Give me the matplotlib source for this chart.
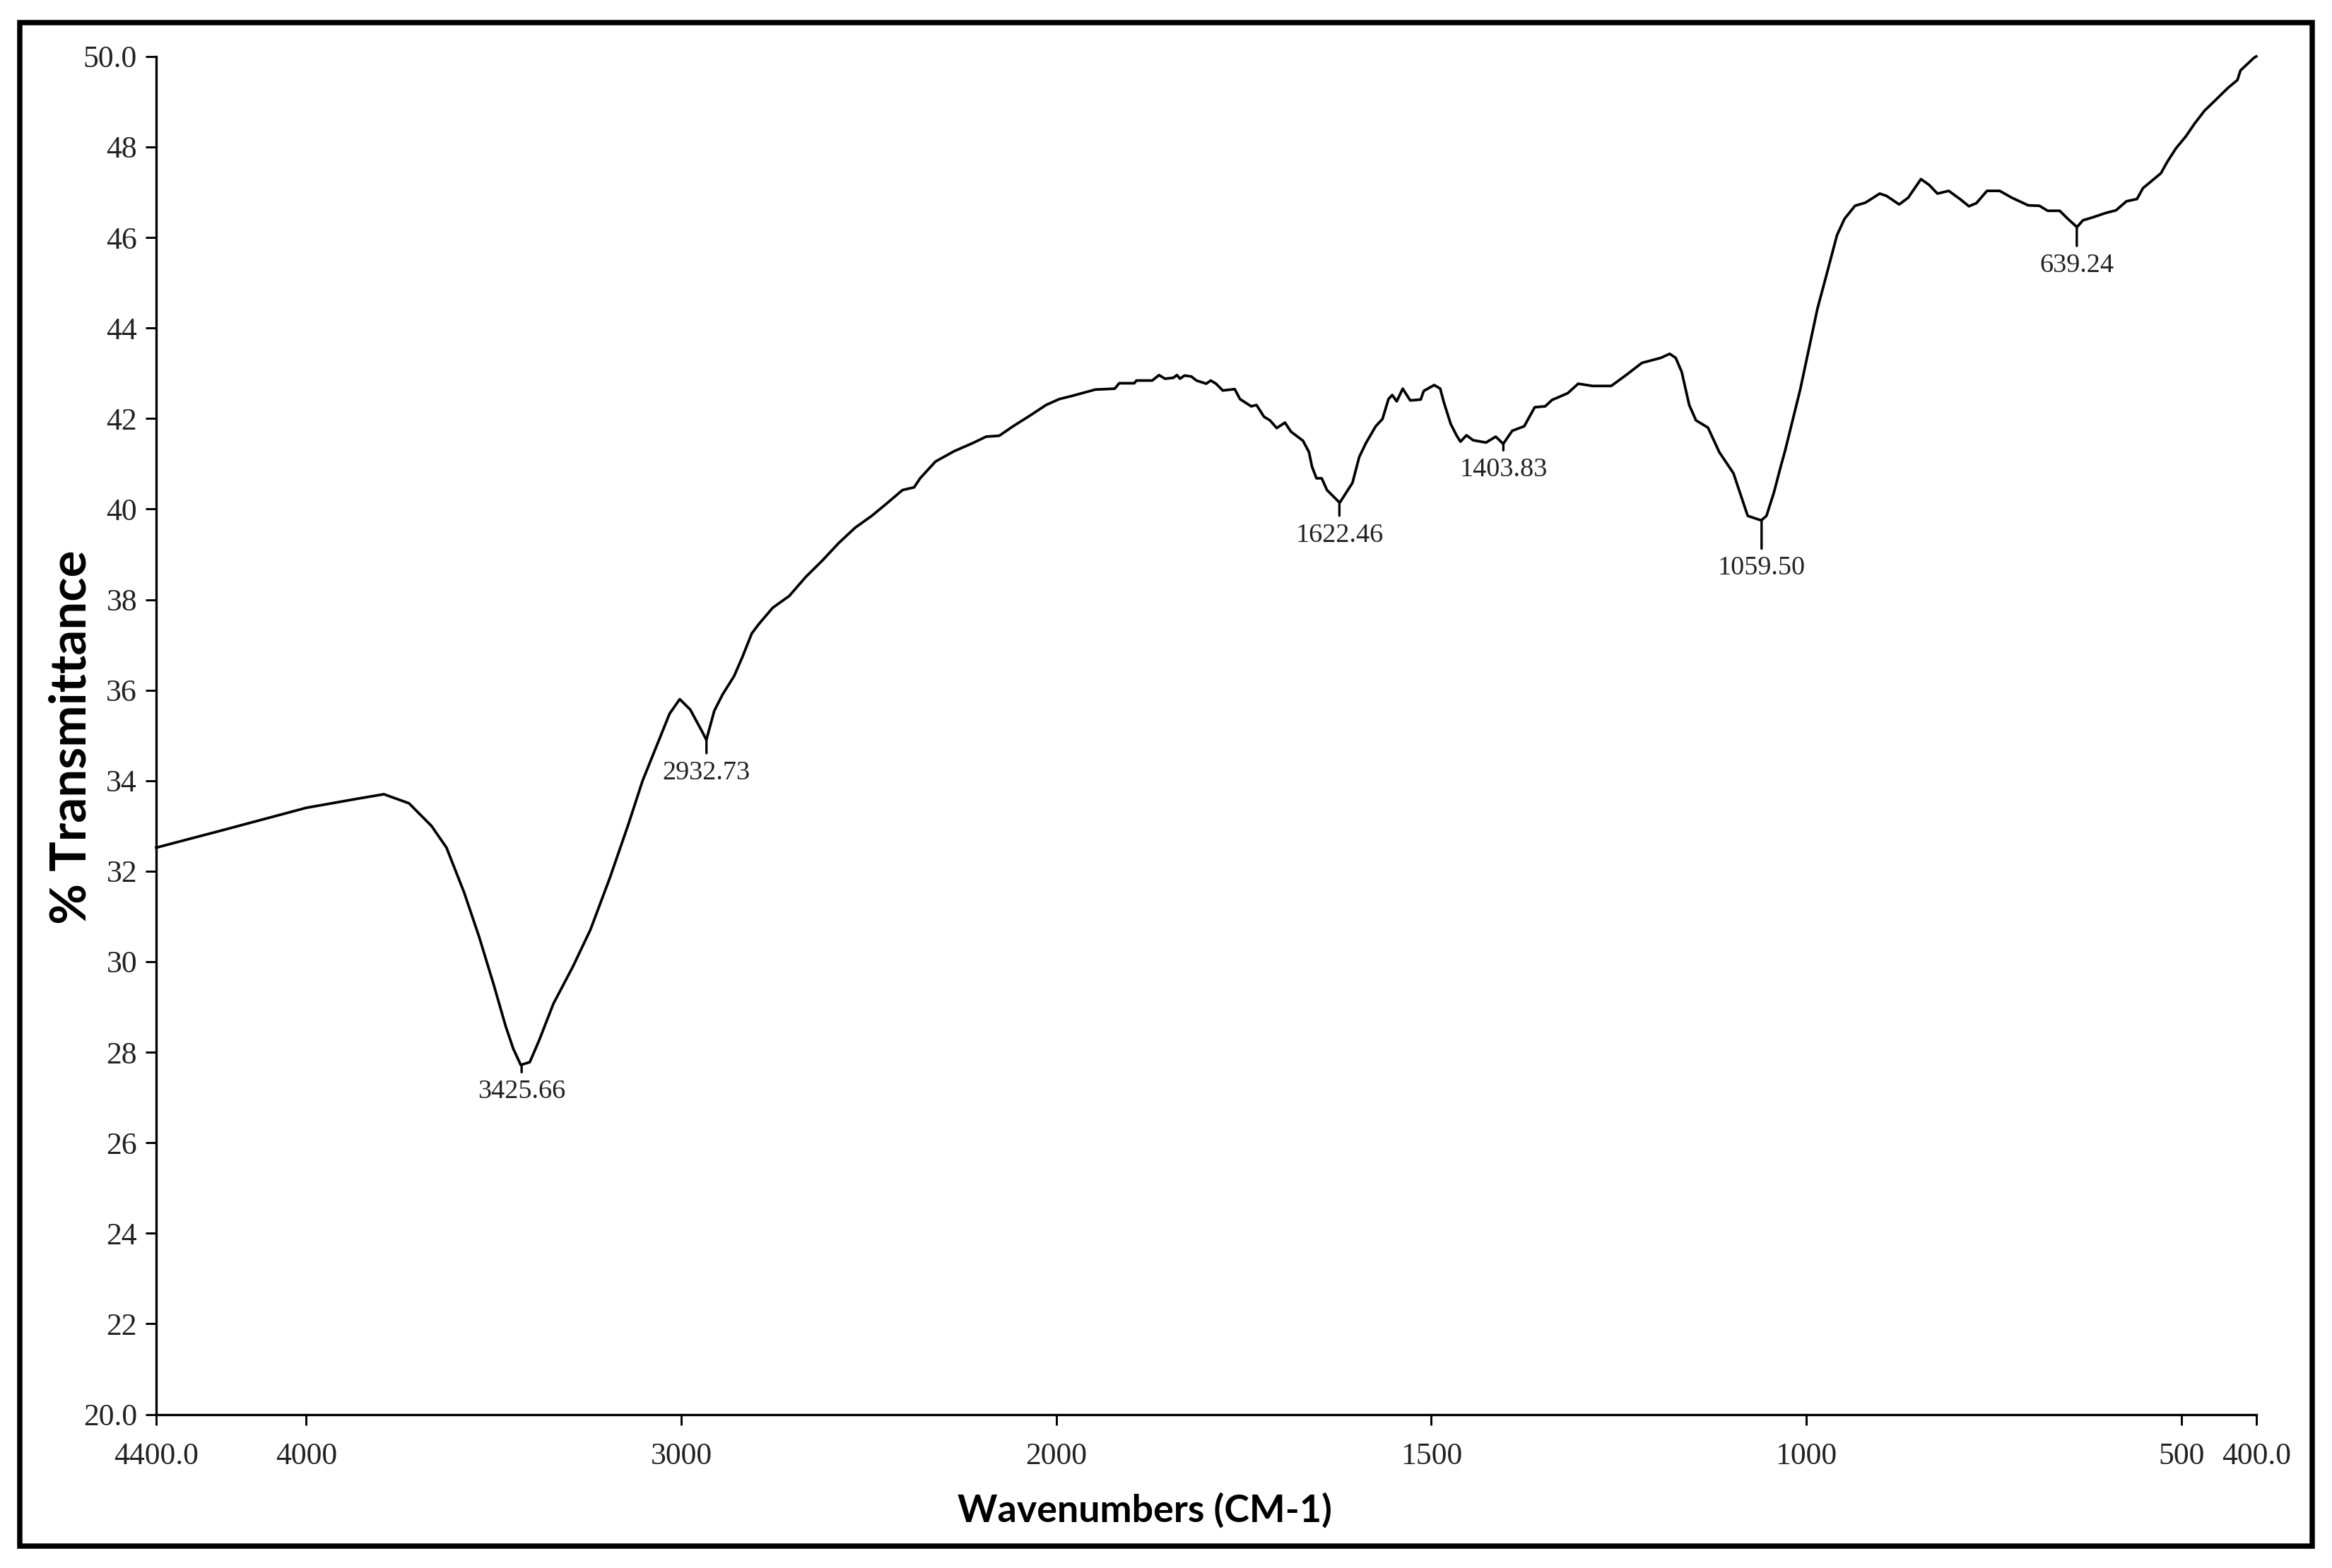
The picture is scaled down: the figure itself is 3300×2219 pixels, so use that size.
import numpy as np
import matplotlib
matplotlib.use('Agg')
import matplotlib.pyplot as plt
from matplotlib.patches import Rectangle
from matplotlib.ticker import FixedLocator, FixedFormatter

# 光谱数据
wavenumbers = [
    4400, 4221, 4000, 3864, 3793, 3726, 3666, 3626, 3579, 3539, 3500, 3468, 3448,
    3428, 3404, 3380, 3341, 3289, 3242, 3190, 3142, 3103, 3063, 3031, 3004, 2976,
    2944, 2933, 2912, 2890, 2859, 2837, 2812, 2793, 2756, 2712, 2668, 2624, 2580,
    2536, 2492, 2454, 2410, 2379, 2363, 2322, 2272, 2222, 2187, 2152, 2115, 2071,
    2027, 1996, 1979, 1948, 1922, 1916, 1896, 1893, 1872, 1863, 1855, 1844, 1839,
    1835, 1829, 1820, 1813, 1800, 1794, 1787, 1778, 1762, 1755, 1740, 1733, 1723,
    1715, 1706, 1695, 1687, 1671, 1663, 1659, 1653, 1646, 1639, 1622, 1615, 1605,
    1596, 1587, 1574, 1565, 1557, 1552, 1546, 1538, 1528, 1514, 1510, 1496, 1488,
    1483, 1474, 1466, 1461, 1453, 1444, 1427, 1414, 1404, 1392, 1376, 1362, 1348,
    1339, 1318, 1304, 1285, 1260, 1241, 1219, 1194, 1182, 1174, 1166, 1156, 1147,
    1131, 1116, 1097, 1078, 1060, 1053, 1043, 1034, 1028, 1008, 985, 974, 959, 949,
    935, 921, 902, 893, 876, 864, 847, 836, 825, 810, 795, 783, 773, 759, 742, 726,
    704, 689, 678, 662, 651, 639, 631, 617, 601, 587, 573, 559, 551, 527, 519, 507,
    494, 482, 469, 454, 438, 425, 421, 403, 400,
]
transmittance = [
    32.52, 32.91, 33.40, 33.60, 33.70, 33.50, 33.00, 32.52, 31.53, 30.55, 29.49,
    28.57, 28.08, 27.72, 27.78, 28.24, 29.07, 29.89, 30.71, 31.86, 33.01, 34.00,
    34.82, 35.48, 35.80, 35.57, 35.08, 34.90, 35.54, 35.90, 36.31, 36.73, 37.25,
    37.46, 37.82, 38.08, 38.50, 38.86, 39.25, 39.59, 39.85, 40.11, 40.42, 40.48,
    40.68, 41.05, 41.28, 41.46, 41.60, 41.62, 41.83, 42.06, 42.30, 42.43, 42.50,
    42.64, 42.66, 42.78, 42.78, 42.84, 42.84, 42.96, 42.88, 42.90, 42.96, 42.88,
    42.95, 42.93, 42.84, 42.77, 42.84, 42.77, 42.62, 42.65, 42.43, 42.27, 42.30,
    42.04, 41.96, 41.79, 41.91, 41.71, 41.51, 41.26, 40.94, 40.68, 40.68, 40.42,
    40.14, 40.32, 40.58, 41.15, 41.46, 41.83, 41.99, 42.43, 42.52, 42.38, 42.66,
    42.40, 42.42, 42.61, 42.74, 42.66, 42.35, 41.88, 41.62, 41.49, 41.63, 41.52,
    41.47, 41.60, 41.44, 41.73, 41.83, 42.25, 42.27, 42.41, 42.56, 42.77, 42.72,
    42.72, 42.95, 43.23, 43.34, 43.43, 43.34, 43.03, 42.30, 41.96, 41.80, 41.26,
    40.79, 39.85, 39.75, 39.85, 40.37, 40.94, 41.30, 42.64, 44.43, 45.11, 46.05,
    46.41, 46.70, 46.77, 46.97, 46.92, 46.73, 46.88, 47.29, 47.16, 46.97, 47.03,
    46.85, 46.69, 46.76, 47.03, 47.03, 46.88, 46.71, 46.70, 46.59, 46.59, 46.41,
    46.23, 46.38, 46.45, 46.54, 46.60, 46.80, 46.85, 47.09, 47.42, 47.66, 47.97,
    48.23, 48.52, 48.80, 49.04, 49.30, 49.48, 49.69, 49.97, 50.00,
]

# 峰位标注
peak_wn = [3425.66, 2932.73, 1622.46, 1403.83, 1059.50, 639.24]
peak_t = [27.72, 34.90, 40.14, 41.44, 39.75, 46.23]
peak_labels = ['3425.66', '2932.73', '1622.46', '1403.83', '1059.50', '639.24']

x_ticks = [4400, 4000, 3000, 2000, 1500, 1000, 500, 400]
x_tick_labels = ['4400.0', '4000', '3000', '2000', '1500', '1000', '500', '400.0']
y_ticks = list(range(20, 51, 2))
y_tick_labels = ['20.0'] + [str(v) for v in range(22, 49, 2)] + ['50.0']


def _fwd(w):
    # 2000 cm-1 以上压缩一半
    w = np.asarray(w, dtype=float)
    return np.where(w > 2000, 2000 + (w - 2000) / 2.0, w)


def _inv(u):
    u = np.asarray(u, dtype=float)
    return np.where(u > 2000, 2000 + (u - 2000) * 2.0, u)


serif = ['Liberation Serif', 'DejaVu Serif']
label_font = ['Lato', 'DejaVu Sans']

fig = plt.figure(figsize=(11, 7.3967), dpi=300)
ax = fig.add_axes([0.067, 0.098, 0.9005, 0.866])

ax.plot(wavenumbers, transmittance, color='black', linewidth=0.9, clip_on=False)

ax.set_xscale('function', functions=(_fwd, _inv))
ax.set_xlim(4400, 400)
ax.set_ylim(20, 50)

ax.xaxis.set_major_locator(FixedLocator(x_ticks))
ax.xaxis.set_major_formatter(FixedFormatter(x_tick_labels))
ax.yaxis.set_major_locator(FixedLocator(y_ticks))
ax.yaxis.set_major_formatter(FixedFormatter(y_tick_labels))
ax.minorticks_off()

for side in ('top', 'right'):
    ax.spines[side].set_visible(False)
for side in ('left', 'bottom'):
    ax.spines[side].set_linewidth(0.8)

ax.tick_params(axis='both', direction='out', length=3.5, width=0.7,
               labelsize=10.5, labelcolor='#222222', pad=3)
ax.tick_params(axis='x', pad=6)
for lbl in ax.get_xticklabels() + ax.get_yticklabels():
    lbl.set_family(serif)

# 峰位标记线和数值
line_len = [2.5, 4.5, 4.4, 2.2, 9.6, 6.4]
for w, t, txt, ln in zip(peak_wn, peak_t, peak_labels, line_len):
    ax.annotate('', xy=(w, t), xytext=(0, -ln), textcoords='offset points',
                arrowprops=dict(arrowstyle='-', color='black', lw=0.8,
                                shrinkA=0, shrinkB=0))
    ax.annotate(txt, xy=(w, t), xytext=(0, -ln - 2.5), textcoords='offset points',
                ha='center', va='top', fontsize=9.2, color='#222222', family=serif)

fig.text(0.0305, 0.530, '% Transmittance', rotation=90, ha='center', va='center',
         fontsize=17, fontweight='bold', family=label_font)
fig.text(0.491, 0.037, 'Wavenumbers (CM-1)', ha='center', va='center',
         fontsize=12.9, fontweight='bold', family=label_font)

# 外框
fig.patches.append(Rectangle((0.0085, 0.014), 0.983, 0.9715, transform=fig.transFigure,
                             fill=False, edgecolor='black', linewidth=1.8))

fig.savefig('out.png', dpi=300)
plt.close(fig)
